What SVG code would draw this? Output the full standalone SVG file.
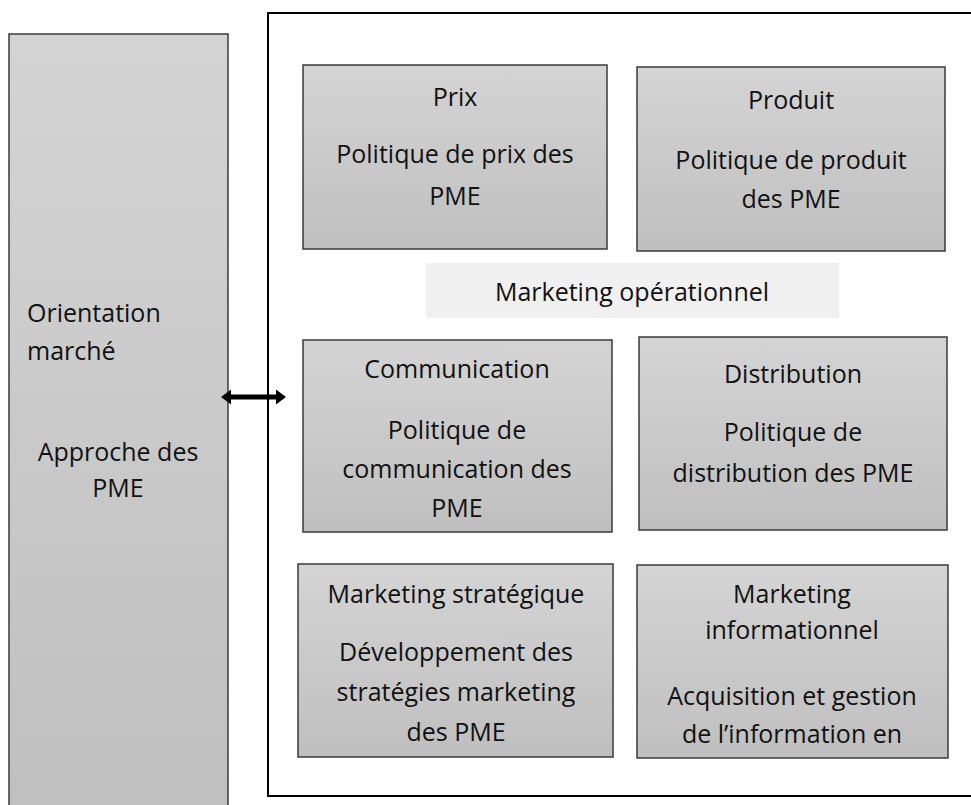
<svg xmlns="http://www.w3.org/2000/svg" width="971" height="805" viewBox="0 0 971 805">
  <defs>
    <linearGradient id="boxFill" x1="0" y1="0" x2="0" y2="1">
      <stop offset="0" stop-color="#d4d4d4"/>
      <stop offset="1" stop-color="#bfbfbf"/>
    </linearGradient>
    <style>
      .box { fill: url(#boxFill); stroke: #3a3a3a; stroke-width: 1.5; }
      .frame { fill: none; stroke: #000; stroke-width: 2; }
      .band { fill: #f0f0f0; stroke: none; }
      text { font-family: "Open Sans", "Liberation Sans", sans-serif; font-size: 25px; fill: #111; }
      .c { text-anchor: middle; }
    </style>
  </defs>
  <rect width="971" height="805" fill="#fff"/>

  <!-- outer frame of the marketing mix -->
  <rect class="frame" x="268" y="13" width="706" height="783"/>

  <!-- left column -->
  <g id="orientation">
    <rect class="box" x="9" y="34" width="219" height="780"/>
    <text x="27" y="322">Orientation</text>
    <text x="27" y="360">marché</text>
    <text class="c" x="118" y="461">Approche des</text>
    <text class="c" x="118" y="497">PME</text>
  </g>

  <g id="prix">
    <rect class="box" x="303" y="65" width="304" height="184"/>
    <text class="c" x="455" y="106">Prix</text>
    <text class="c" x="455" y="163">Politique de prix des</text>
    <text class="c" x="455" y="205">PME</text>
  </g>

  <g id="produit">
    <rect class="box" x="637" y="67" width="308" height="184"/>
    <text class="c" x="791" y="109">Produit</text>
    <text class="c" x="791" y="169">Politique de produit</text>
    <text class="c" x="791" y="208">des PME</text>
  </g>

  <g id="operationnel">
    <rect class="band" x="426" y="263" width="413" height="55"/>
    <text class="c" x="632" y="301">Marketing opérationnel</text>
  </g>

  <g id="communication">
    <rect class="box" x="303" y="340" width="309" height="192"/>
    <text class="c" x="457" y="378">Communication</text>
    <text class="c" x="457" y="439">Politique de</text>
    <text class="c" x="457" y="478">communication des</text>
    <text class="c" x="457" y="517">PME</text>
  </g>

  <g id="distribution">
    <rect class="box" x="639" y="337" width="308" height="193"/>
    <text class="c" x="793" y="383">Distribution</text>
    <text class="c" x="793" y="441">Politique de</text>
    <text class="c" x="793" y="482">distribution des PME</text>
  </g>

  <g id="strategique">
    <rect class="box" x="298" y="564" width="315" height="193"/>
    <text class="c" x="456" y="603">Marketing stratégique</text>
    <text class="c" x="456" y="661">Développement des</text>
    <text class="c" x="456" y="701">stratégies marketing</text>
    <text class="c" x="456" y="741">des PME</text>
  </g>

  <g id="informationnel">
    <rect class="box" x="637" y="565" width="311" height="193"/>
    <text class="c" x="792" y="603">Marketing</text>
    <text class="c" x="792" y="639">informationnel</text>
    <text class="c" x="792" y="705">Acquisition et gestion</text>
    <text class="c" x="792" y="743">de l’information en</text>
  </g>

  <!-- two-way link between the column and the frame -->
  <g id="connectors">
    <polygon fill="#000" points="221,397 231,389.5 231,394.5 276,394.5 276,389.5 286,397 276,404.5 276,399.5 231,399.5 231,404.5"/>
  </g>
</svg>
